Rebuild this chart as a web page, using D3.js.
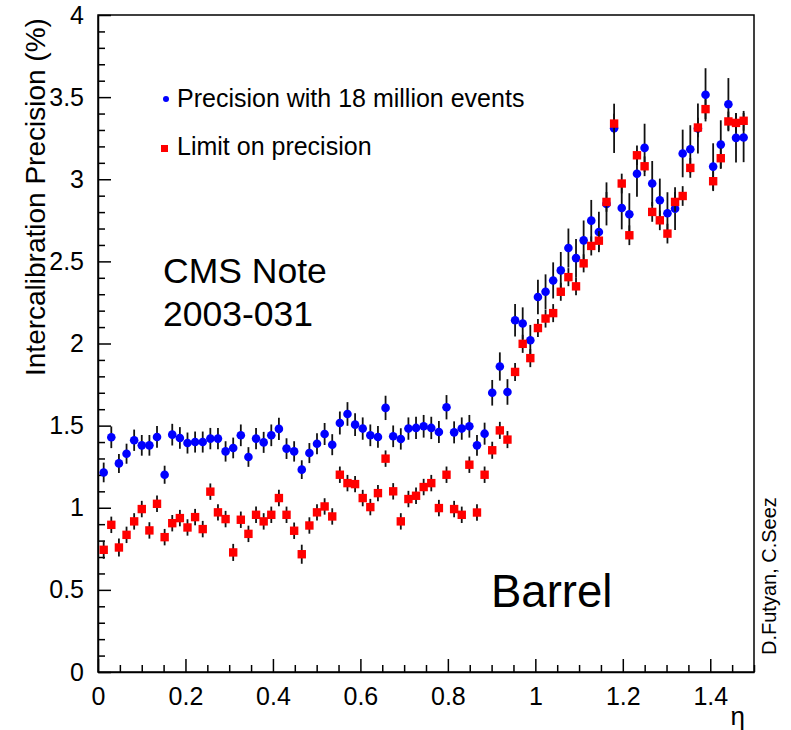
<!DOCTYPE html>
<html>
<head>
<meta charset="utf-8">
<script src="https://cdn.jsdelivr.net/npm/d3@7"></script>
<style>
  body { margin: 0; background: #fff; }
  svg text { font-family: "Liberation Sans", Arial, Helvetica, sans-serif; fill: #000; }
  .axis path, .axis line { stroke: #000; stroke-width: 1.5; }
  .axis text { font-size: 25px; }
</style>
</head>
<body>
<div id="chart"></div>
<script>
// eta bins: one point per barrel crystal ring
const ETA_FIRST = 0.013, ETA_STEP = 0.01742;

// precision with 18 million events (%)
const precision18M = [
  1.215, 1.429, 1.270, 1.329, 1.411, 1.380, 1.380, 1.431, 1.201, 1.445,
  1.425, 1.394, 1.400, 1.400, 1.421, 1.421, 1.343, 1.364, 1.441, 1.309,
  1.421, 1.398, 1.441, 1.480, 1.360, 1.343, 1.232, 1.333, 1.390, 1.449,
  1.384, 1.516, 1.571, 1.506, 1.482, 1.441, 1.431, 1.608, 1.435, 1.419,
  1.482, 1.486, 1.496, 1.486, 1.461, 1.612, 1.459, 1.482, 1.496, 1.380,
  1.451, 1.700, 1.860, 1.705, 2.142, 2.122, 2.020, 2.283, 2.315, 2.384,
  2.445, 2.581, 2.520, 2.628, 2.748, 2.679, 2.850, 3.310, 2.825, 2.787,
  3.033, 3.191, 2.974, 2.872, 2.793, 2.821, 3.157, 3.183, 3.309, 3.514,
  3.077, 3.211, 3.457, 3.252, 3.254
];
const precision18MErr = [
  0.060, 0.066, 0.058, 0.061, 0.065, 0.063, 0.063, 0.066, 0.055, 0.066,
  0.066, 0.064, 0.064, 0.064, 0.065, 0.065, 0.062, 0.063, 0.066, 0.060,
  0.065, 0.064, 0.066, 0.068, 0.063, 0.062, 0.057, 0.061, 0.064, 0.067,
  0.064, 0.070, 0.072, 0.069, 0.068, 0.066, 0.066, 0.074, 0.066, 0.065,
  0.068, 0.068, 0.069, 0.068, 0.067, 0.074, 0.067, 0.068, 0.069, 0.063,
  0.067, 0.078, 0.086, 0.078, 0.099, 0.098, 0.093, 0.105, 0.106, 0.110,
  0.112, 0.119, 0.116, 0.121, 0.126, 0.123, 0.131, 0.150, 0.130, 0.128,
  0.140, 0.147, 0.137, 0.132, 0.128, 0.130, 0.145, 0.146, 0.152, 0.162,
  0.142, 0.148, 0.159, 0.150, 0.150
];

// limit on precision (%)
const precisionLimit = [
  0.744, 0.896, 0.758, 0.835, 0.917, 0.992, 0.862, 1.024, 0.821, 0.906,
  0.937, 0.880, 0.943, 0.870, 1.098, 0.972, 0.931, 0.728, 0.927, 0.841,
  0.957, 0.917, 0.957, 1.059, 0.957, 0.860, 0.717, 0.892, 0.972, 1.008,
  0.947, 1.201, 1.150, 1.144, 1.059, 1.004, 1.089, 1.299, 1.100, 0.917,
  1.053, 1.073, 1.126, 1.150, 0.998, 1.201, 0.992, 0.957, 1.262, 0.971,
  1.201, 1.350, 1.471, 1.415, 1.827, 1.998, 1.911, 2.094, 2.152, 2.185,
  2.315, 2.404, 2.348, 2.488, 2.594, 2.626, 2.862, 3.339, 2.974, 2.659,
  3.146, 3.079, 2.801, 2.750, 2.669, 2.862, 2.898, 3.069, 3.315, 3.427,
  2.988, 3.128, 3.352, 3.343, 3.356
];
const precisionLimitErr = [
  0.055, 0.050, 0.055, 0.050, 0.050, 0.050, 0.050, 0.050, 0.050, 0.050,
  0.050, 0.050, 0.050, 0.050, 0.050, 0.050, 0.050, 0.052, 0.050, 0.050,
  0.050, 0.050, 0.050, 0.050, 0.050, 0.050, 0.058, 0.050, 0.050, 0.050,
  0.050, 0.050, 0.050, 0.050, 0.050, 0.050, 0.050, 0.050, 0.050, 0.050,
  0.050, 0.050, 0.050, 0.050, 0.050, 0.050, 0.050, 0.050, 0.050, 0.050,
  0.050, 0.052, 0.052, 0.052, 0.055, 0.055, 0.055, 0.055, 0.055, 0.055,
  0.055, 0.055, 0.055, 0.055, 0.058, 0.058, 0.060, 0.060, 0.060, 0.060,
  0.060, 0.060, 0.060, 0.060, 0.060, 0.060, 0.060, 0.060, 0.060, 0.060,
  0.060, 0.060, 0.060, 0.060, 0.060
];

const xMajor = [0, 0.2, 0.4, 0.6, 0.8, 1, 1.2, 1.4];
const yMajor = [0, 0.5, 1, 1.5, 2, 2.5, 3, 3.5, 4];

// --- layout
const W = 791, H = 730;
const m = { top: 15, right: 37, bottom: 58, left: 98 };
const innerW = W - m.left - m.right, innerH = H - m.top - m.bottom;

const svg = d3.select("#chart").append("svg").attr("width", W).attr("height", H);
const g = svg.append("g").attr("transform", `translate(${m.left},${m.top})`);

const x = d3.scaleLinear().domain([0, 1.5]).range([0, innerW]);
const y = d3.scaleLinear().domain([0, 4]).range([innerH, 0]);

// minor ticks
const xMinor = d3.range(0, 1.5001, 0.05).filter(v => !xMajor.some(t => Math.abs(t - v) < 1e-6));
const yMinor = d3.range(0, 4.0001, 0.1).filter(v => !yMajor.some(t => Math.abs(t - v) < 1e-6));

// axes (ticks point inward, ROOT style)
g.append("g").attr("class", "axis")
  .attr("transform", `translate(0,${innerH})`)
  .call(d3.axisBottom(x).tickValues(xMajor).tickSizeInner(-13).tickSizeOuter(0)
    .tickPadding(10).tickFormat(d3.format("")))
  .call(a => a.selectAll("text").attr("dy", "0.9em"));
g.append("g").attr("class", "axis")
  .attr("transform", `translate(0,${innerH})`)
  .call(d3.axisBottom(x).tickValues(xMinor).tickSizeInner(-7).tickSizeOuter(0).tickFormat(""))
  .call(a => a.select(".domain").remove());

g.append("g").attr("class", "axis")
  .call(d3.axisLeft(y).tickValues(yMajor).tickSizeInner(-13).tickSizeOuter(0)
    .tickPadding(14).tickFormat(d3.format("")));
g.append("g").attr("class", "axis")
  .call(d3.axisLeft(y).tickValues(yMinor).tickSizeInner(-7).tickSizeOuter(0).tickFormat(""))
  .call(a => a.select(".domain").remove());

// frame
g.append("rect")
  .attr("width", innerW).attr("height", innerH)
  .attr("fill", "none").attr("stroke", "#000").attr("stroke-width", 1.5);

// series
const toPts = (vals, errs) => vals.map((v, i) => ({ eta: ETA_FIRST + i * ETA_STEP, v, e: errs[i] }));
const bluePts = toPts(precision18M, precision18MErr);
const redPts = toPts(precisionLimit, precisionLimitErr);

function errBars(pts) {
  g.append("g").selectAll("line").data(pts).join("line")
    .attr("x1", d => x(d.eta)).attr("x2", d => x(d.eta))
    .attr("y1", d => y(d.v - d.e)).attr("y2", d => y(d.v + d.e))
    .attr("stroke", "#111").attr("stroke-width", 1.8);
}

errBars(bluePts);
g.append("g").selectAll("circle").data(bluePts).join("circle")
  .attr("cx", d => x(d.eta)).attr("cy", d => y(d.v))
  .attr("r", 4.3).attr("fill", "#0000ff");

errBars(redPts);
const sq = 8.4;
g.append("g").selectAll("rect").data(redPts).join("rect")
  .attr("x", d => x(d.eta) - sq / 2).attr("y", d => y(d.v) - sq / 2)
  .attr("width", sq).attr("height", sq).attr("fill", "#ff0000");

// legend
svg.append("circle").attr("cx", 166).attr("cy", 99).attr("r", 3).attr("fill", "#0000ff");
svg.append("text").attr("x", 177).attr("y", 107).style("font-size", "25px")
  .text("Precision with 18 million events");
svg.append("rect").attr("x", 161).attr("y", 145).attr("width", 7).attr("height", 7).attr("fill", "#ff0000");
svg.append("text").attr("x", 177).attr("y", 155).style("font-size", "25px")
  .text("Limit on precision");

// annotations
svg.append("text").attr("x", 163).attr("y", 283).style("font-size", "35.5px").text("CMS Note");
svg.append("text").attr("x", 163).attr("y", 326).style("font-size", "35.5px").text("2003-031");
svg.append("text").attr("x", 491).attr("y", 607).style("font-size", "45.5px").text("Barrel");

// axis titles
svg.append("text")
  .attr("transform", "translate(45,376) rotate(-90)")
  .style("font-size", "28px")
  .text("Intercalibration Precision (%)");
svg.append("text").attr("x", 745).attr("y", 725).attr("text-anchor", "end")
  .style("font-size", "26px").text("η");

svg.append("text")
  .attr("transform", "translate(776,655) rotate(-90)")
  .style("font-size", "20px")
  .text("D.Futyan, C.Seez");
</script>
</body>
</html>
